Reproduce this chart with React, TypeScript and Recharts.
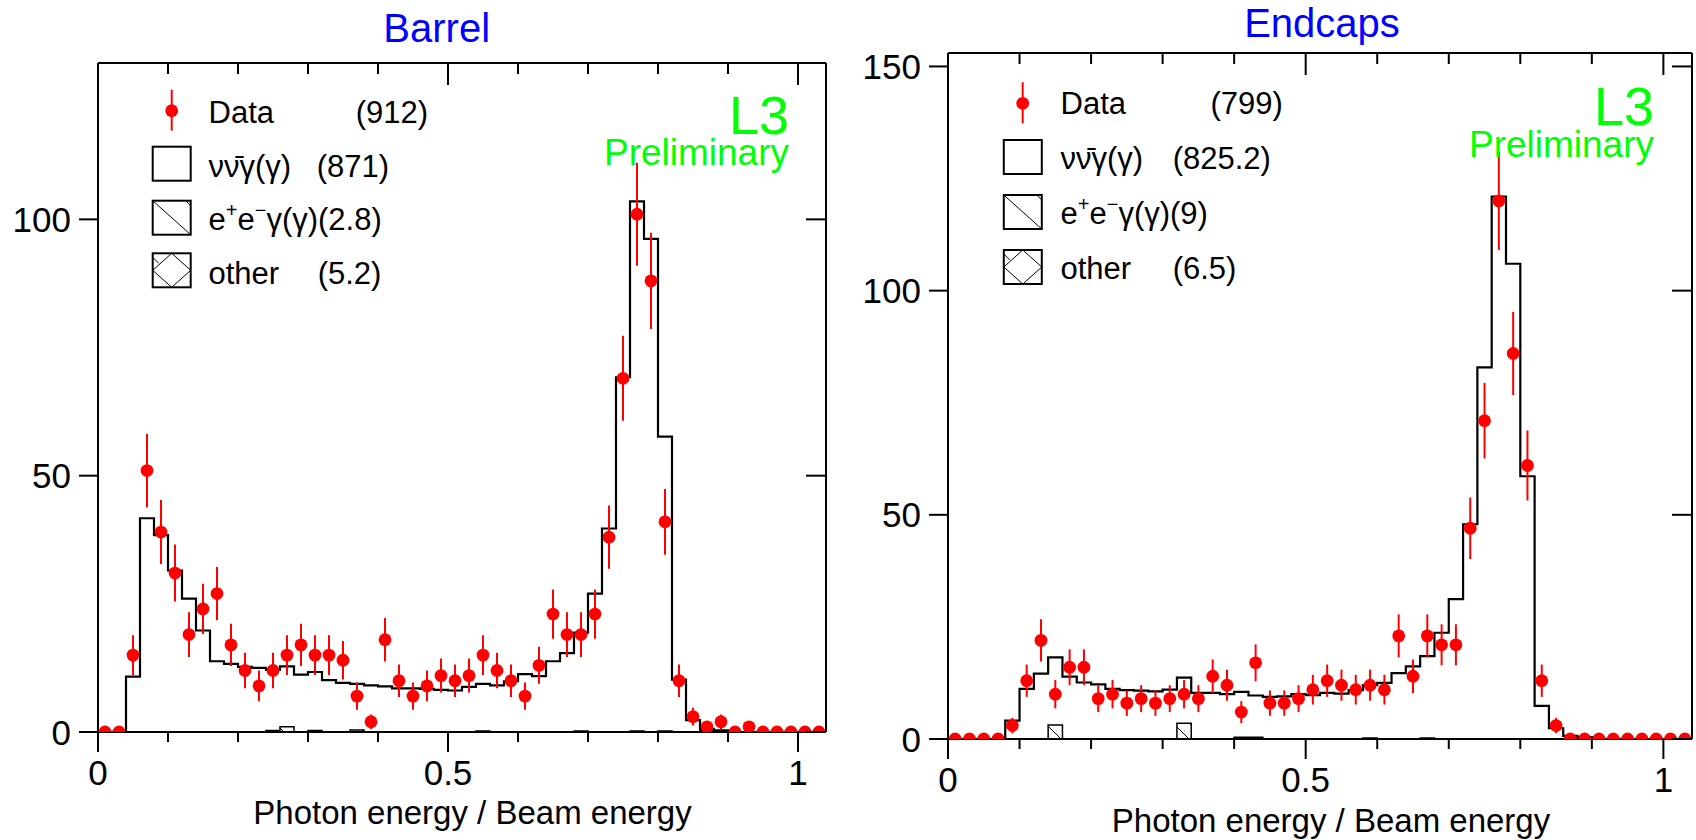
import React from 'react';
import { ComposedChart, Line, Area, Scatter, ErrorBar, XAxis, YAxis } from 'recharts';

const FONT = '"Liberation Sans", Arial, Helvetica, sans-serif';

// ---------- binning (photon energy / beam energy) ----------
const BIN_LO = [
  0, 0.02, 0.04, 0.06, 0.08, 0.1, 0.12, 0.14, 0.16, 0.18,
  0.2, 0.22, 0.24, 0.26, 0.28, 0.3, 0.32, 0.34, 0.36, 0.38,
  0.4, 0.42, 0.44, 0.46, 0.48, 0.5, 0.52, 0.54, 0.56, 0.58,
  0.6, 0.62, 0.64, 0.66, 0.68, 0.7, 0.72, 0.74, 0.76, 0.78,
  0.8, 0.82, 0.84, 0.86, 0.88, 0.9, 0.92, 0.94, 0.96, 0.98,
  1.0, 1.02,
];
const BIN_W = 0.02;
const X_MAX = 1.04;
const X_TICKS = [0, 0.1, 0.2, 0.3, 0.4, 0.5, 0.6, 0.7, 0.8, 0.9, 1.0];
const X_LABELS = [
  { v: 0, t: '0' },
  { v: 0.5, t: '0.5' },
  { v: 1, t: '1' },
];

// ---------- Barrel ----------
const BARREL_DATA = [
  0, 0, 15, 51, 39, 31, 19, 24, 27, 17,
  12, 9, 12, 15, 17, 15, 15, 14, 7, 2,
  18, 10, 7, 9, 11, 10, 11, 15, 12, 10,
  7, 13, 23, 19, 19, 23, 38, 69, 101, 88,
  41, 10, 3, 1, 2, 0, 1, 0, 0, 0,
  0, 0,
];
const BARREL_MC = [
  0, 0, 10.8, 41.7, 38.4, 31.5, 26, 19.8, 13.8, 13.3,
  12.7, 12.5, 12.1, 12.8, 11.2, 11.7, 10.1, 9.6, 9.4, 9.1,
  8.9, 8.5, 8.5, 8.4, 8.2, 8.1, 8.8, 9.4, 9.1, 9.9,
  11.3, 10.9, 13.8, 15.4, 19.4, 27, 39.7, 69.2, 103.5, 96.2,
  57.6, 10.2, 2.3, 0.6, 0.3, 0, 0, 0, 0, 0,
  0, 0,
];
const BARREL_EE = [
  0, 0, 0, 0, 0, 0, 0, 0, 0, 0,
  0, 0, 0.3, 1.0, 0, 0, 0, 0, 0.4, 0,
  0, 0, 0, 0, 0, 0, 0, 0, 0, 0,
  0, 0, 0, 0, 0.2, 0, 0, 0, 0.2, 0,
  0, 0, 0, 0, 0, 0, 0, 0, 0, 0,
  0, 0,
];
const BARREL_OTHER = [
  0, 0, 0, 0, 0, 0, 0, 0, 0, 0,
  0, 0, 0, 0, 0, 0.3, 0, 0, 0, 0,
  0, 0, 0, 0, 0, 0, 0, 0.2, 0, 0,
  0, 0, 0, 0, 0, 0, 0, 0, 0, 0,
  0.2, 0, 0, 0.3, 0, 0, 0, 0, 0, 0,
  0, 0,
];
const BARREL_Y_TICKS = [0, 50, 100];

// ---------- Endcaps ----------
const ENDCAP_DATA = [
  0, 0, 0, 0, 3, 13, 22, 10, 16, 16,
  9, 10, 8, 9, 8, 9, 10, 9, 14, 12,
  6, 17, 8, 8, 9, 11, 13, 12, 11, 12,
  11, 23, 14, 23, 21, 21, 47, 71, 120, 86,
  61, 13, 3, 0, 0, 0, 0, 0, 0, 0,
  0, 0,
];
const ENDCAP_MC = [
  0, 0, 0, 0, 4.1, 11.2, 14.6, 18.2, 13.9, 12.6,
  12.2, 11.2, 10.9, 10.8, 10.6, 11, 13.7, 10.3, 10.3, 10,
  10.5, 9.7, 9.4, 9.5, 10, 9.8, 10.3, 10.1, 10.9, 12.0,
  12.5, 14.7, 16.2, 18.5, 23.7, 31.2, 47.9, 82.9, 121, 106,
  58.6, 7.4, 2.4, 0.7, 0.4, 0, 0, 0, 0, 0,
  0, 0,
];
const ENDCAP_EE = [
  0, 0, 0, 0, 0, 0, 0, 3.1, 0, 0,
  0, 0, 0, 0, 0, 0, 3.5, 0, 0, 0,
  0.3, 0, 0, 0, 0, 0, 0, 0, 0, 0.2,
  0, 0, 0, 0, 0, 0, 0, 0, 0, 0,
  0, 0, 0, 0, 0, 0, 0, 0, 0, 0,
  0, 0,
];
const ENDCAP_OTHER = [
  0, 0, 0, 0, 0, 0, 0, 0, 0, 0,
  0, 0, 0, 0, 0, 0, 0, 0, 0, 0,
  0.4, 0.4, 0, 0, 0, 0, 0, 0, 0, 0,
  0, 0, 0, 0.2, 0, 0, 0, 0, 0, 0,
  0, 0, 0, 0, 0.2, 0, 0, 0, 0, 0,
  0, 0,
];
const ENDCAP_Y_TICKS = [0, 50, 100, 150];

// ---------- helpers ----------
const toSteps = (vals: number[]) =>
  BIN_LO.map((x, i) => ({ x, y: vals[i] })).concat([{ x: X_MAX, y: vals[vals.length - 1] }]);
const toPoints = (vals: number[]) =>
  BIN_LO.map((x, i) => ({ x: x + BIN_W / 2, y: vals[i], e: Math.sqrt(vals[i]) }));

const MARKER_R = 6.4;

const BottomTick = (p: any) => {
  const v = p.payload.value;
  const lab = X_LABELS.find((l) => Math.abs(l.v - v) < 1e-6);
  return (
    <g>
      <line x1={p.x} x2={p.x} y1={p.y} y2={p.y + (lab ? 20 : 10)} stroke="#000" strokeWidth={2} />
      {lab && (
        <text x={p.x} y={p.y + 52.6} textAnchor="middle" fontSize={35} fontFamily={FONT} fill="#000">
          {lab.t}
        </text>
      )}
    </g>
  );
};
const TopTick = (p: any) => {
  const v = p.payload.value;
  const lab = X_LABELS.find((l) => Math.abs(l.v - v) < 1e-6);
  return <line x1={p.x} x2={p.x} y1={p.y} y2={p.y + (lab ? 22 : 11)} stroke="#000" strokeWidth={2} />;
};
const LeftTick = (p: any) => (
  <g>
    <line x1={p.x - 19} x2={p.x} y1={p.y} y2={p.y} stroke="#000" strokeWidth={2} />
    <text x={p.x - 27} y={p.y} dy="0.36em" textAnchor="end" fontSize={35} fontFamily={FONT} fill="#000">
      {p.payload.value}
    </text>
  </g>
);
const RightTick = (p: any) => (
  <line x1={p.x - 20} x2={p.x} y1={p.y} y2={p.y} stroke="#000" strokeWidth={2} />
);

type PanelProps = {
  left: number;
  width: number;
  margin: { top: number; right: number; bottom: number; left: number };
  yMax: number;
  yTicks: number[];
  data: number[];
  mc: number[];
  ee: number[];
  other: number[];
};

function Panel(p: PanelProps) {
  const axisLine = { stroke: '#000', strokeWidth: 2 };
  return (
    <div style={{ position: 'absolute', left: p.left, top: 0 }}>
      <ComposedChart width={p.width} height={840} margin={p.margin}>
        <XAxis
          xAxisId="b" type="number" dataKey="x" domain={[0, X_MAX]} ticks={X_TICKS} interval={0}
          allowDataOverflow orientation="bottom" height={60} tickSize={0} tickMargin={0}
          tickLine={false} axisLine={axisLine} tick={BottomTick}
        />
        <XAxis
          xAxisId="t" type="number" dataKey="x" domain={[0, X_MAX]} ticks={X_TICKS} interval={0}
          allowDataOverflow orientation="top" height={1} tickSize={0} tickMargin={0}
          tickLine={false} axisLine={axisLine} tick={TopTick}
        />
        <YAxis
          yAxisId="l" type="number" dataKey="y" domain={[0, p.yMax]} ticks={p.yTicks} interval={0}
          allowDataOverflow orientation="left" width={98} tickSize={0} tickMargin={0}
          tickLine={false} axisLine={axisLine} tick={LeftTick}
        />
        <YAxis
          yAxisId="r" type="number" dataKey="y" domain={[0, p.yMax]} ticks={p.yTicks} interval={0}
          allowDataOverflow orientation="right" width={1} tickSize={0} tickMargin={0}
          tickLine={false} axisLine={axisLine} tick={RightTick}
        />
        <Area
          data={toSteps(p.ee)} dataKey="y" xAxisId="b" yAxisId="l" type="stepAfter"
          stroke="#000" strokeWidth={1.5} fill="url(#hatchEE)" fillOpacity={1}
          dot={false} activeDot={false} isAnimationActive={false}
        />
        <Area
          data={toSteps(p.other)} dataKey="y" xAxisId="b" yAxisId="l" type="stepAfter"
          stroke="#000" strokeWidth={1.5} fill="url(#hatchOT)" fillOpacity={1}
          dot={false} activeDot={false} isAnimationActive={false}
        />
        <Line
          data={toSteps(p.mc)} dataKey="y" xAxisId="b" yAxisId="l" type="stepAfter"
          stroke="#000" strokeWidth={2.2} dot={false} activeDot={false} isAnimationActive={false}
        />
        <Scatter
          data={toPoints(p.data)} dataKey="y" xAxisId="b" yAxisId="l" isAnimationActive={false}
          shape={(s: any) => <circle cx={s.cx} cy={s.cy} r={MARKER_R} fill="#ff0000" />}
        >
          <ErrorBar dataKey="e" direction="y" width={0} stroke="#ff0000" strokeWidth={2} />
        </Scatter>
      </ComposedChart>
    </div>
  );
}

type LegendProps = {
  mx: number; my: number; bx: number; boxTops: number[]; tx: number;
  base: number[]; col2: number[]; counts: string[];
};

function LegendBlock(l: LegendProps) {
  const bw = 38;
  const bh = 34;
  const fs = 31;
  const [t1, t2, t3] = l.boxTops;
  return (
    <g fontFamily={FONT} fontSize={fs} fill="#000">
      <line x1={l.mx} x2={l.mx} y1={l.my - 21} y2={l.my + 20} stroke="#ff0000" strokeWidth={2} />
      <circle cx={l.mx} cy={l.my} r={MARKER_R} fill="#ff0000" />
      <text x={l.tx} y={l.base[0]}>Data</text>
      <text x={l.col2[0]} y={l.base[0]}>{l.counts[0]}</text>

      <rect x={l.bx} y={t1} width={bw} height={bh} fill="#fff" stroke="#000" strokeWidth={2} />
      <text x={l.tx} y={l.base[1]}>νν̄γ(γ)</text>
      <text x={l.col2[1]} y={l.base[1]}>{l.counts[1]}</text>

      <rect x={l.bx} y={t2} width={bw} height={bh} fill="#fff" stroke="#000" strokeWidth={2} />
      <line x1={l.bx} y1={t2} x2={l.bx + bw} y2={t2 + bh} stroke="#000" strokeWidth={1} />
      <line x1={l.bx + bw - 5} y1={t2} x2={l.bx + bw} y2={t2 + 5} stroke="#000" strokeWidth={1} />
      <text x={l.tx} y={l.base[2]}>
        e<tspan dy={-13} fontSize={20}>+</tspan>
        <tspan dy={13}>e</tspan>
        <tspan dy={-13} fontSize={20}>−</tspan>
        <tspan dy={13}>γ(γ){l.counts[2]}</tspan>
      </text>

      <rect x={l.bx} y={t3} width={bw} height={bh} fill="#fff" stroke="#000" strokeWidth={2} />
      <polyline
        points={`${l.bx},${t3 + bh / 2} ${l.bx + bw / 2},${t3} ${l.bx + bw},${t3 + bh / 2} ${l.bx + bw / 2},${t3 + bh} ${l.bx},${t3 + bh / 2}`}
        fill="none" stroke="#000" strokeWidth={1}
      />
      <line x1={l.bx} y1={t3 + 4} x2={l.bx + 6} y2={t3 + 10} stroke="#000" strokeWidth={1} />
      <text x={l.tx} y={l.base[3]}>other</text>
      <text x={l.col2[2]} y={l.base[3]}>{l.counts[3]}</text>
    </g>
  );
}

function L3Mark({ x, yL3, yPre }: { x: number; yL3: number; yPre: number }) {
  return (
    <text textAnchor="end" fontFamily={FONT} fill="#00ff00">
      <tspan x={x} y={yL3} fontSize={54}>L3</tspan>
      <tspan x={x} y={yPre} fontSize={37}>Preliminary</tspan>
    </text>
  );
}

export default function App() {
  return (
    <div style={{ position: 'absolute', left: 0, top: 0, width: 1696, height: 840, background: '#fff', overflow: 'hidden' }}>
      <svg width={0} height={0} style={{ position: 'absolute' }}>
        <defs>
          <pattern id="hatchEE" patternUnits="userSpaceOnUse" width={16} height={16}>
            <path d="M0,0 L16,16 M-4,12 L4,20 M12,-4 L20,4" stroke="#000" strokeWidth={1} />
          </pattern>
          <pattern id="hatchOT" patternUnits="userSpaceOnUse" width={16} height={16}>
            <path d="M0,0 L16,16 M16,0 L0,16" stroke="#000" strokeWidth={1} />
          </pattern>
        </defs>
      </svg>
      <Panel
        left={0} width={848} margin={{ top: 62, right: 21, bottom: 48, left: 0 }}
        yMax={130.5} yTicks={BARREL_Y_TICKS}
        data={BARREL_DATA} mc={BARREL_MC} ee={BARREL_EE} other={BARREL_OTHER}
      />
      <Panel
        left={850} width={846} margin={{ top: 52, right: 3, bottom: 41, left: 0 }}
        yMax={153} yTicks={ENDCAP_Y_TICKS}
        data={ENDCAP_DATA} mc={ENDCAP_MC} ee={ENDCAP_EE} other={ENDCAP_OTHER}
      />
      <svg width={1696} height={840} style={{ position: 'absolute', left: 0, top: 0, pointerEvents: 'none' }}>
        {/* Barrel */}
        <text x={436.7} y={41.7} textAnchor="middle" fontSize={40} fontFamily={FONT} fill="#0000ff">Barrel</text>
        <LegendBlock
          mx={171.7} my={110.7} bx={152.7} boxTops={[146.7, 200.7, 253.3]} tx={208.5}
          base={[123.3, 176.8, 230.3, 283.8]} col2={[355.7, 316.8, 317.7]}
          counts={['(912)', '(871)', '(2.8)', '(5.2)']}
        />
        <L3Mark x={789} yL3={134} yPre={165} />
        <text x={472.5} y={824.3} textAnchor="middle" fontSize={33} fontFamily={FONT} fill="#000">Photon energy / Beam energy</text>

        {/* Endcaps */}
        <text x={1322} y={36.5} textAnchor="middle" fontSize={40} fontFamily={FONT} fill="#0000ff">Endcaps</text>
        <LegendBlock
          mx={1022.7} my={103.3} bx={1003.8} boxTops={[140, 195, 250]} tx={1060.5}
          base={[114.3, 169, 224, 279]} col2={[1210.5, 1172.7, 1172.7]}
          counts={['(799)', '(825.2)', '(9)', '(6.5)']}
        />
        <L3Mark x={1654} yL3={125} yPre={157} />
        <text x={1331} y={832} textAnchor="middle" fontSize={33} fontFamily={FONT} fill="#000">Photon energy / Beam energy</text>
      </svg>
    </div>
  );
}
